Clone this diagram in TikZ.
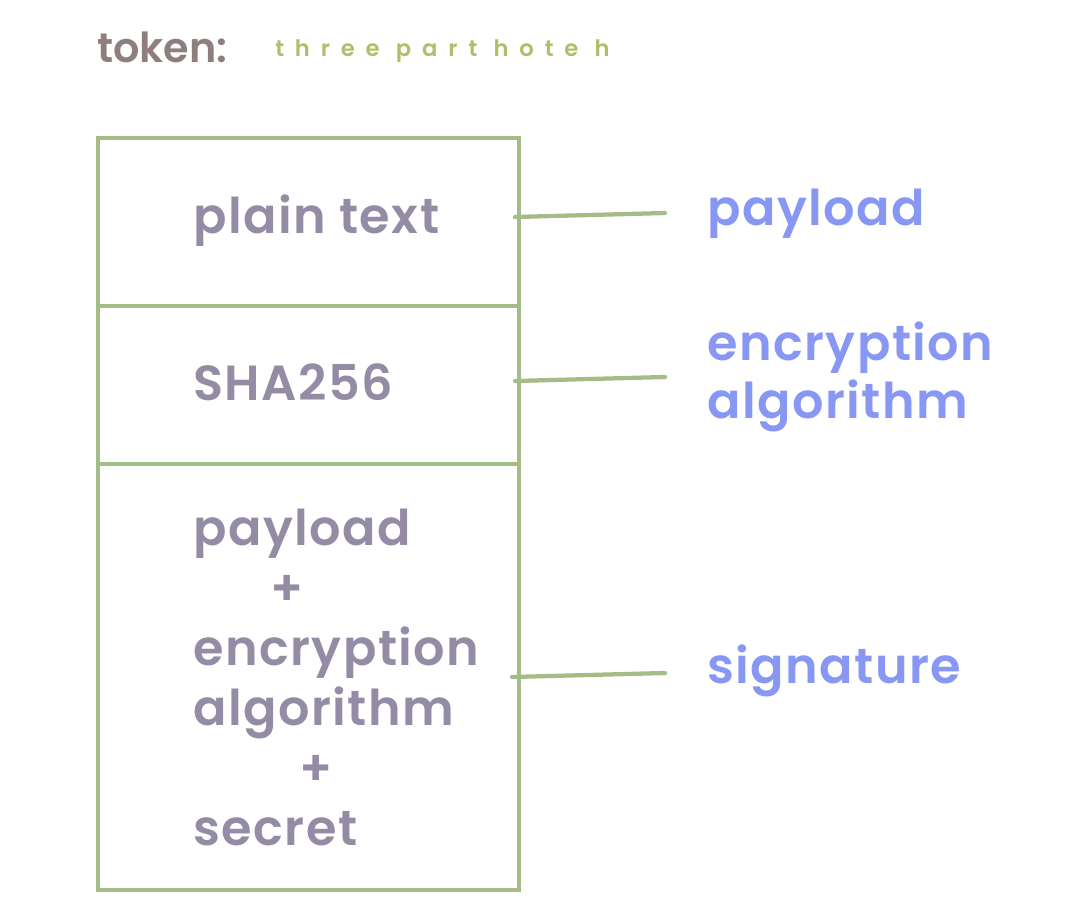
\documentclass[tikz,border=0pt]{standalone}
\usepackage{fontspec}
\setmainfont{Poppins}[UprightFont=* Medium, BoldFont=* SemiBold]
\usepackage{xcolor}
\usepackage{tikz}
\usetikzlibrary{positioning}

\definecolor{titlegray}{HTML}{8E7E7E}
\definecolor{hintgreen}{HTML}{B3BC68}
\definecolor{boxgreen}{HTML}{A4BD88}
\definecolor{itemgray}{HTML}{948BA4}
\definecolor{labelblue}{HTML}{8797F3}

\begin{document}
\begin{tikzpicture}[x=0.75pt, y=-0.75pt,
    section/.style={draw=boxgreen, line width=3.2pt, rectangle, minimum width=315.75pt, inner sep=0pt, outer sep=0pt},
    item/.style={text=itemgray, inner sep=0pt, anchor=base west, align=left, font=\fontsize{37}{45}\selectfont\bfseries\addfontfeatures{LetterSpace=3}},
    note/.style={text=labelblue, inner sep=0pt, anchor=base west, align=left, font=\fontsize{37}{43.5}\selectfont\bfseries\addfontfeatures{LetterSpace=3}},
    link/.style={draw=boxgreen, line width=3.2pt, line cap=round}]
    \useasboundingbox (0,0) rectangle (1072,918);

    % Title
    \node (title) [text=titlegray, inner sep=0pt, anchor=base west, font=\fontsize{31}{34}\selectfont\bfseries] at (97,62) {token:};
    \node (hint) [text=hintgreen, inner sep=0pt, anchor=base west, font=\fontsize{17}{18}\selectfont\bfseries\addfontfeatures{LetterSpace=48}] at (275,56) {three part hote h};

    % Sections
    \node (plain) [section, minimum height=126pt, anchor=north west] at (98,138) {};
    \node (sha) [section, minimum height=118.5pt, below=0pt of plain] {};
    \node (sign) [section, minimum height=319.5pt, below=0pt of sha] {};

    % Section texts (base = last line)
    \node (plaintxt) [item] at (193,233) {plain text};
    \node (shatxt) [item] at (193,400) {SHA256};
    \node (signtxt) [item] at (193,845) {payload\\\hspace*{58pt}+\\encryption\\algorithm\\\hspace*{80pt}+\\secret};

    % Labels
    \node (paylabel) [note] at (707,225) {payload};
    \node (enclabel) [note] at (707,418) {encryption\\algorithm};
    \node (siglabel) [note] at (707,683) {signature};

    % Lines
    \coordinate (payend) at (665,213);
    \coordinate (encend) at (665,377);
    \coordinate (sigend) at (665,673);
    \draw[link] ([shift={(-4,-5)}]plain.east) -- (payend);
    \draw[link] ([shift={(-4,-4)}]sha.east) -- (encend);
    \draw[link] ([shift={(-7,0)}]sign.east) -- (sigend);
\end{tikzpicture}
\end{document}
